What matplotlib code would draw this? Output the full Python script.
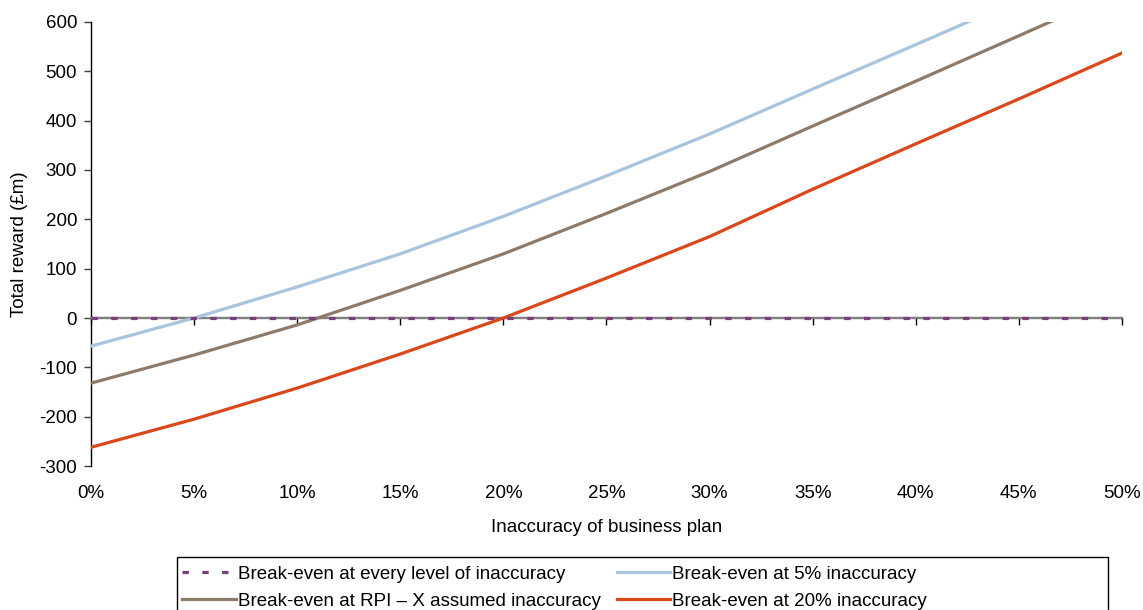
import matplotlib
matplotlib.use("Agg")
import matplotlib.pyplot as plt
from matplotlib.ticker import FuncFormatter
from matplotlib.patches import Rectangle

plt.rcParams['font.family'] = ['Liberation Sans', 'DejaVu Sans']
plt.rcParams['axes.unicode_minus'] = False

inaccuracy = [0, 5, 10, 15, 20, 25, 30, 35, 40, 45, 50]
every_level = [0, 0, 0, 0, 0, 0, 0, 0, 0, 0, 0]
five_pct = [-57, 0, 63, 130, 206, 288, 373, 464, 554, 645, 740]
rpi_x = [-132, -75, -14, 56, 130, 212, 297, 389, 480, 572, 665]
twenty_pct = [-262, -205, -142, -73, 0, 81, 165, 261, 353, 444, 537]

labels = ["Break-even at every level of inaccuracy",
          "Break-even at 5% inaccuracy",
          "Break-even at RPI \u2013 X assumed inaccuracy",
          "Break-even at 20% inaccuracy"]
y_ticks = [-300, -200, -100, 0, 100, 200, 300, 400, 500, 600]
x_ticks = [0, 5, 10, 15, 20, 25, 30, 35, 40, 45, 50]

FS = 13.5

fig = plt.figure(figsize=(11.43, 6.10), dpi=100)
ax = fig.add_axes([0.0796, 0.236, 0.902, 0.728])

ax.axhline(0, color='#808080', lw=1.6, zorder=1)
h_blue, = ax.plot(inaccuracy, five_pct, color='#A9C4DE', lw=2.3, label=labels[1], zorder=3)
h_brown, = ax.plot(inaccuracy, rpi_x, color='#8C7B6B', lw=2.3, label=labels[2], zorder=3)
h_red, = ax.plot(inaccuracy, twenty_pct, color='#D9471B', lw=2.3, label=labels[3], zorder=3)
h_dash, = ax.plot(inaccuracy, every_level, color='#77407A', lw=2.3,
                  linestyle=(0, (2, 4.2)), dash_capstyle='butt', label=labels[0], zorder=4)

ax.set_xlim(0, 50)
ax.set_ylim(-300, 600)
ax.set_yticks(y_ticks)
ax.set_xticks(x_ticks)

for s in ['top', 'right']:
    ax.spines[s].set_visible(False)
ax.spines['bottom'].set_position(('data', 0))
ax.spines['bottom'].set_color('#808080')
ax.spines['bottom'].set_linewidth(1.6)
ax.spines['left'].set_color('black')
ax.spines['left'].set_linewidth(1.0)

ax.tick_params(axis='x', direction='out', length=5, width=1, color='black', labelbottom=False)
ax.tick_params(axis='y', direction='out', length=5, width=1, color='#404040', labelsize=FS, pad=5)

sec = ax.secondary_xaxis('bottom')
sec.set_xticks(x_ticks)
sec.xaxis.set_major_formatter(FuncFormatter(lambda v, p: f"{int(round(v))}%"))
sec.tick_params(length=0, labelsize=FS, pad=14)
sec.spines['bottom'].set_visible(False)
sec.set_xlabel("Inaccuracy of business plan", fontsize=FS, labelpad=12)

ax.set_ylabel("Total reward (\u00a3m)", fontsize=FS, labelpad=8)

W, H = 1143.0, 610.0
box_top = 557.0
fig.patches.append(Rectangle((177 / W, -0.05), (1108 - 177) / W, (H - box_top) / H + 0.05,
                             transform=fig.transFigure, fill=False, edgecolor='black',
                             linewidth=1.0, zorder=5))

leg = fig.legend(handles=[h_dash, h_brown, h_blue, h_red], ncol=2,
                 loc='upper left', bbox_to_anchor=(174 / W, (H - box_top) / H),
                 fontsize=FS, frameon=False,
                 handlelength=2.84, handletextpad=0.1, columnspacing=0.88,
                 borderpad=0.45, labelspacing=0.55, borderaxespad=0)

fig.savefig("out.png", dpi=100)
